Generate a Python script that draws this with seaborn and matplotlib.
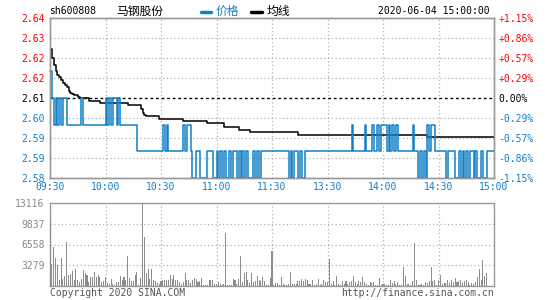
import numpy as np
import pandas as pd
import matplotlib
matplotlib.use("Agg")
import matplotlib.pyplot as plt
import seaborn as sns
from matplotlib.lines import Line2D

# ---------------- data ----------------
time_labels = ["09:30", "10:00", "10:30", "11:00", "11:30", "13:30", "14:00", "14:30", "15:00"]
price_tick_labels = ["2.58", "2.59", "2.59", "2.60", "2.61", "2.62", "2.62", "2.63", "2.64"]
pct_tick_labels = ["-1.15%", "-0.86%", "-0.57%", "-0.29%", "0.00%", "+0.29%", "+0.57%", "+0.86%", "+1.15%"]
vol_tick_labels = ["3279", "6558", "9837", "13116"]
vol_tick_values = [3279, 6558, 9837, 13116]
prev_close = 2.61
price_low, price_high = 2.58, 2.64

price = [
    2.62, 2.61, 2.60, 2.61, 2.60, 2.61, 2.60, 2.61, 2.61, 2.60,
    2.60, 2.60, 2.60, 2.60, 2.60, 2.60, 2.60, 2.61, 2.60, 2.60,
    2.60, 2.60, 2.60, 2.60, 2.60, 2.60, 2.60, 2.60, 2.60, 2.60,
    2.61, 2.60, 2.61, 2.60, 2.61, 2.61, 2.60, 2.61, 2.60, 2.60,
    2.60, 2.60, 2.60, 2.60, 2.60, 2.60, 2.60, 2.59, 2.59, 2.59,
    2.59, 2.59, 2.59, 2.59, 2.59, 2.59, 2.59, 2.59, 2.59, 2.59,
    2.59, 2.60, 2.59, 2.60, 2.59, 2.59, 2.59, 2.59, 2.59, 2.59,
    2.59, 2.59, 2.60, 2.59, 2.60, 2.60, 2.59, 2.58, 2.58, 2.59,
    2.59, 2.58, 2.58, 2.58, 2.58, 2.59, 2.59, 2.59, 2.58, 2.58,
    2.59, 2.58, 2.59, 2.58, 2.59, 2.58, 2.58, 2.59, 2.58, 2.59,
    2.59, 2.58, 2.59, 2.58, 2.59, 2.58, 2.59, 2.58, 2.58, 2.58,
    2.59, 2.58, 2.59, 2.58, 2.59, 2.59, 2.59, 2.59, 2.59, 2.59,
    2.59, 2.59, 2.59, 2.59, 2.59, 2.59, 2.59, 2.59, 2.59, 2.58,
    2.59, 2.58, 2.59, 2.59, 2.58, 2.59, 2.58, 2.58, 2.59, 2.59,
    2.59, 2.59, 2.59, 2.59, 2.59, 2.59, 2.59, 2.59, 2.59, 2.59,
    2.59, 2.59, 2.59, 2.59, 2.59, 2.59, 2.59, 2.59, 2.59, 2.59,
    2.59, 2.59, 2.59, 2.60, 2.59, 2.59, 2.59, 2.59, 2.59, 2.59,
    2.60, 2.59, 2.59, 2.59, 2.60, 2.59, 2.59, 2.60, 2.59, 2.60,
    2.60, 2.60, 2.59, 2.60, 2.59, 2.60, 2.59, 2.60, 2.59, 2.59,
    2.59, 2.59, 2.59, 2.59, 2.59, 2.59, 2.60, 2.59, 2.59, 2.58,
    2.59, 2.58, 2.59, 2.58, 2.60, 2.59, 2.60, 2.60, 2.59, 2.59,
    2.59, 2.59, 2.59, 2.59, 2.58, 2.59, 2.59, 2.59, 2.59, 2.58,
    2.58, 2.59, 2.58, 2.59, 2.58, 2.59, 2.58, 2.59, 2.59, 2.58,
    2.59, 2.58, 2.58, 2.59, 2.58, 2.58, 2.59, 2.59, 2.59, 2.59,
    2.59,
]

avg = [
    2.6283, 2.6250, 2.6225, 2.6200, 2.6188, 2.6180, 2.6168, 2.6155, 2.6150, 2.6140,
    2.6125, 2.6120, 2.6115, 2.6110, 2.6110, 2.6102, 2.6100, 2.6099, 2.6099, 2.6099,
    2.6099, 2.6090, 2.6090, 2.6090, 2.6090, 2.6090, 2.6090, 2.6080, 2.6080, 2.6080,
    2.6080, 2.6080, 2.6080, 2.6080, 2.6080, 2.6080, 2.6080, 2.6080, 2.6080, 2.6080,
    2.6080, 2.6080, 2.6073, 2.6073, 2.6073, 2.6073, 2.6073, 2.6073, 2.6073, 2.6060,
    2.6045, 2.6035, 2.6033, 2.6033, 2.6033, 2.6033, 2.6033, 2.6033, 2.6033, 2.6020,
    2.6020, 2.6020, 2.6020, 2.6020, 2.6020, 2.6020, 2.6020, 2.6020, 2.6020, 2.6020,
    2.6020, 2.6020, 2.6014, 2.6014, 2.6014, 2.6014, 2.6014, 2.6014, 2.6014, 2.6014,
    2.6014, 2.6014, 2.6014, 2.6014, 2.6014, 2.6005, 2.6005, 2.6005, 2.6005, 2.6005,
    2.6005, 2.6005, 2.6005, 2.6005, 2.5992, 2.5992, 2.5992, 2.5992, 2.5992, 2.5992,
    2.5992, 2.5992, 2.5980, 2.5980, 2.5980, 2.5980, 2.5980, 2.5980, 2.5972, 2.5972,
    2.5972, 2.5972, 2.5972, 2.5972, 2.5972, 2.5972, 2.5972, 2.5972, 2.5972, 2.5972,
    2.5972, 2.5972, 2.5972, 2.5972, 2.5972, 2.5972, 2.5972, 2.5972, 2.5972, 2.5972,
    2.5972, 2.5972, 2.5972, 2.5972, 2.5961, 2.5961, 2.5961, 2.5961, 2.5961, 2.5961,
    2.5961, 2.5961, 2.5961, 2.5961, 2.5961, 2.5961, 2.5961, 2.5961, 2.5961, 2.5961,
    2.5961, 2.5961, 2.5961, 2.5961, 2.5961, 2.5961, 2.5961, 2.5961, 2.5961, 2.5961,
    2.5961, 2.5961, 2.5961, 2.5961, 2.5961, 2.5961, 2.5961, 2.5961, 2.5961, 2.5961,
    2.5961, 2.5961, 2.5961, 2.5961, 2.5961, 2.5961, 2.5961, 2.5961, 2.5961, 2.5961,
    2.5961, 2.5961, 2.5961, 2.5961, 2.5961, 2.5961, 2.5961, 2.5961, 2.5961, 2.5961,
    2.5961, 2.5961, 2.5961, 2.5961, 2.5961, 2.5961, 2.5961, 2.5961, 2.5961, 2.5961,
    2.5961, 2.5961, 2.5961, 2.5961, 2.5953, 2.5953, 2.5953, 2.5953, 2.5953, 2.5953,
    2.5953, 2.5953, 2.5953, 2.5953, 2.5953, 2.5953, 2.5953, 2.5953, 2.5953, 2.5953,
    2.5953, 2.5953, 2.5953, 2.5953, 2.5953, 2.5953, 2.5953, 2.5953, 2.5953, 2.5953,
    2.5953, 2.5953, 2.5953, 2.5953, 2.5953, 2.5953, 2.5953, 2.5953, 2.5953, 2.5953,
    2.5953,
]

volume = [
    10090, 3480, 6190, 4420, 3330, 990, 4420, 1140, 1610, 6970,
    1720, 1820, 2390, 880, 2760, 990, 570, 1140, 2550, 2080,
    1770, 620, 1350, 1460, 2290, 1460, 1770, 1460, 570, 730,
    1350, 520, 360, 1140, 310, 210, 680, 680, 1610, 990,
    1460, 990, 4730, 1300, 830, 830, 1720, 2290, 210, 1300,
    13116, 7700, 2080, 2700, 1140, 2700, 990, 830, 520, 310,
    780, 940, 880, 990, 990, 1770, 1040, 1770, 990, 940,
    620, 360, 620, 2080, 880, 990, 520, 880, 1200, 1140,
    620, 730, 1250, 210, 210, 210, 990, 990, 990, 360,
    360, 680, 360, 210, 260, 8320, 210, 210, 210, 1140,
    990, 360, 1040, 4730, 620, 2080, 2240, 990, 420, 2080,
    620, 830, 1610, 990, 780, 1460, 830, 210, 210, 1300,
    5560, 210, 520, 520, 210, 1460, 360, 210, 210, 360,
    2240, 360, 360, 360, 830, 730, 1140, 830, 1040, 990,
    360, 360, 880, 210, 360, 1140, 210, 360, 940, 680,
    620, 4260, 360, 730, 210, 1610, 360, 210, 730, 360,
    730, 360, 620, 730, 1610, 680, 260, 830, 570, 1460,
    680, 310, 210, 680, 420, 570, 210, 210, 1300, 210,
    360, 360, 210, 210, 990, 520, 830, 360, 570, 210,
    210, 2960, 1610, 360, 360, 210, 830, 6810, 990, 210,
    210, 360, 210, 680, 520, 830, 3020, 830, 990, 210,
    990, 1770, 360, 520, 520, 990, 520, 990, 680, 1250,
    680, 830, 990, 520, 830, 990, 680, 210, 520, 360,
    680, 1460, 2700, 990, 4100, 1610, 2080, 0, 0, 0,
    0,
]

# ---------------- style ----------------
BLUE = "#1080c8"
RED = "#ff0000"
GRAY = "#999999"
GRID = "#b0b0b0"
MONO = ["DejaVu Sans Mono", "Noto Sans CJK SC"]
CJK = ["Noto Sans CJK SC", "DejaVu Sans"]

sns.set_style("white")
plt.rcParams["font.family"] = MONO

W, H = 545, 300
fig = plt.figure(figsize=(W / 100, H / 100), dpi=100)
fig.patch.set_facecolor("white")


def fx(x):
    return x / W


def fy(y):
    return 1 - y / H


ax = fig.add_axes([fx(50), fy(178), 444 / W, 160 / H])
axv = fig.add_axes([fx(50), fy(286), 444 / W, 83 / H])

df = pd.DataFrame({
    "minute": np.arange(len(price)),
    "price": price,
    "avg": avg,
    "volume": volume,
})
n = len(price) - 1

# price panel
sns.lineplot(data=df, x="minute", y="avg", ax=ax, color="black", lw=1.1,
             estimator=None, drawstyle="steps-post", zorder=4)
sns.lineplot(data=df, x="minute", y="price", ax=ax, color=BLUE, lw=1.1,
             estimator=None, drawstyle="steps-post", zorder=5, clip_on=False)

ax.set_xlim(0, n)
ax.set_ylim(price_low, price_high)
yt = np.linspace(price_low, price_high, len(price_tick_labels))
xt = np.linspace(0, n, len(time_labels))
ax.set_yticks(yt)
ax.set_yticklabels(price_tick_labels)
ax.set_xticks(xt)
ax.set_xticklabels(time_labels)
ax.set_xlabel("")
ax.set_ylabel("")
for v in yt[1:-1]:
    if abs(v - prev_close) < 1e-9:
        continue
    ax.axhline(v, color=GRID, lw=0.9, ls=(0, (1, 2)), zorder=1)
for v in xt[1:-1]:
    ax.axvline(v, color=GRID, lw=0.9, ls=(0, (1, 2)), zorder=1)
ax.axhline(prev_close, color="black", lw=1.0, ls=(0, (2, 2)), zorder=3)
ax.tick_params(axis="both", length=0, labelsize=7)
ax.tick_params(axis="x", pad=3, labelcolor=BLUE)
ax.tick_params(axis="y", pad=4)
mid = len(price_tick_labels) // 2
for i, lab in enumerate(ax.get_yticklabels()):
    lab.set_color(RED if i > mid else ("black" if i == mid else BLUE))

ax2 = ax.twinx()
ax2.set_ylim(price_low, price_high)
ax2.set_yticks(yt)
ax2.set_yticklabels(pct_tick_labels)
ax2.tick_params(axis="y", length=0, labelsize=7, pad=3)
for i, lab in enumerate(ax2.get_yticklabels()):
    lab.set_color(RED if i > mid else ("black" if i == mid else BLUE))

for a in (ax, ax2):
    for s in a.spines.values():
        s.set_color(GRAY)
        s.set_linewidth(1.0)

# volume panel
sns.barplot(data=df, x="minute", y="volume", ax=axv, color="#8c8c8c", width=0.55,
            errorbar=None, native_scale=True, saturation=1, zorder=3,
            edgecolor="none", linewidth=0, antialiased=False)
axv.set_xlim(0, n)
axv.set_ylim(0, vol_tick_values[-1])
axv.set_yticks(vol_tick_values)
axv.set_yticklabels(vol_tick_labels)
axv.set_xticks([])
axv.set_xlabel("")
axv.set_ylabel("")
for v in vol_tick_values[:-1]:
    axv.axhline(v, color=GRID, lw=0.9, ls=(0, (1, 2)), zorder=1)
for v in xt[1:-1]:
    axv.axvline(v, color=GRID, lw=0.9, ls=(0, (1, 2)), zorder=1)
axv.tick_params(axis="y", length=0, labelsize=7, pad=4, labelcolor="#888888")
for s in axv.spines.values():
    s.set_color(GRAY)
    s.set_linewidth(1.0)

# header
fig.text(fx(49), fy(11.5), "sh600808", fontsize=7, va="center", ha="left", color="black")
fig.text(fx(116), fy(11.5), "马钢股份", fontsize=8.5, va="center", ha="left",
         color="black", family=CJK)
fig.add_artist(Line2D([fx(201), fx(211)], [fy(11.5), fy(11.5)], color=BLUE, lw=2.5))
fig.text(fx(216), fy(11.5), "价格", fontsize=8.5, va="center", ha="left", color=BLUE, family=CJK)
fig.add_artist(Line2D([fx(251), fx(262)], [fy(11.5), fy(11.5)], color="black", lw=2.5))
fig.text(fx(267), fy(11.5), "均线", fontsize=8.5, va="center", ha="left", color="black", family=CJK)
fig.text(fx(490), fy(11.5), "2020-06-04 15:00:00", fontsize=7, va="center", ha="right", color="black")

# footer
fig.text(fx(50), fy(293), "Copyright 2020 SINA.COM", fontsize=7, va="center", ha="left", color="#555555")
fig.text(fx(494), fy(293), "http://finance.sina.com.cn", fontsize=7, va="center", ha="right", color="#555555")

fig.savefig("out.png", dpi=100)
